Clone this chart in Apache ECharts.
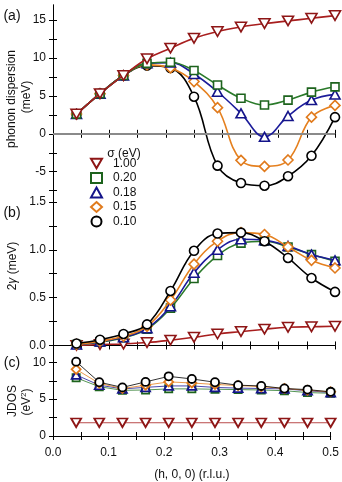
<!DOCTYPE html>
<html>
<head>
<meta charset="utf-8">
<script src="https://cdn.jsdelivr.net/npm/echarts@6/dist/echarts.min.js"></script>
<style>
html,body{margin:0;padding:0;background:#fff;}
#chart{width:342px;height:482px;}
</style>
</head>
<body>
<div id="chart"></div>
<script>
// ---- data ----
const hValues = [0.0417, 0.0833, 0.125, 0.1667, 0.2083, 0.25, 0.2917, 0.3333, 0.375, 0.4167, 0.4583, 0.5];
const sigmaNames = ['1.00', '0.20', '0.18', '0.15', '0.10'];

// (a) phonon dispersion (meV)
const disp100 = [2.6, 5.3, 7.7, 9.9, 11.3, 12.6, 13.5, 14.1, 14.55, 14.9, 15.25, 15.6];
const disp020 = [2.6, 5.3, 7.7, 9.3, 9.45, 8.35, 6.45, 4.7, 3.8, 4.45, 5.5, 6.2];
const disp018 = [2.6, 5.3, 7.7, 9.3, 9.4, 7.9, 5.55, 2.7, -0.4, 2.35, 4.45, 5.2];
const disp015 = [2.6, 5.3, 7.7, 9.1, 8.7, 6.9, 3.45, -3.5, -4.3, -3.45, 2.2, 3.75];
const disp010 = [2.6, 5.3, 7.7, 9.0, 8.7, 4.9, -4.2, -6.5, -6.85, -5.6, -2.9, 2.2];

// (b) 2 gamma (meV)
const gam100 = [0.0, 0.01, 0.015, 0.03, 0.055, 0.085, 0.12, 0.145, 0.17, 0.19, 0.195, 0.2];
const gam020 = [0.01, 0.035, 0.08, 0.17, 0.39, 0.70, 0.94, 1.07, 1.09, 1.03, 0.95, 0.88];
const gam018 = [0.01, 0.04, 0.085, 0.18, 0.41, 0.76, 1.0, 1.11, 1.10, 1.04, 0.95, 0.89];
const gam015 = [0.01, 0.045, 0.095, 0.2, 0.475, 0.85, 1.09, 1.18, 1.16, 1.03, 0.89, 0.81];
const gam010 = [0.02, 0.06, 0.12, 0.22, 0.57, 0.99, 1.17, 1.18, 1.09, 0.915, 0.705, 0.56];

// (c) JDOS (eV^2)
const jdos100 = [1.8, 1.8, 1.8, 1.8, 1.8, 1.8, 1.8, 1.8, 1.8, 1.8, 1.8, 1.8];
const jdos020 = [7.9, 6.7, 6.2, 6.25, 6.4, 6.4, 6.35, 6.3, 6.25, 6.15, 5.9, 5.8];
const jdos018 = [8.3, 6.9, 6.4, 6.6, 6.8, 6.8, 6.6, 6.5, 6.45, 6.4, 6.15, 5.9];
const jdos015 = [9.05, 7.15, 6.45, 6.9, 7.35, 7.2, 7.0, 6.85, 6.7, 6.45, 6.2, 6.0];
const jdos010 = [10.1, 7.3, 6.6, 7.35, 8.1, 7.75, 7.3, 6.9, 6.8, 6.45, 6.3, 6.0];

// tick labels
const xTickLabels = [0, 0.1, 0.2, 0.3, 0.4, 0.5];
const xTicks = [0, 0.05, 0.1, 0.15, 0.2, 0.25, 0.3, 0.35, 0.4, 0.45, 0.5];
const aTickLabels = [-5, 0, 5, 10, 15];
const aTicks = [-7.5, -5, -2.5, 0, 2.5, 5, 7.5, 10, 12.5, 15];
const bTickLabels = [0, 0.5, 1.0, 1.5];
const bTicks = [0, 0.25, 0.5, 0.75, 1.0, 1.25, 1.5];
const cTickLabels = [0, 5, 10];
const cTicks = [0, 2.5, 5, 7.5, 10];

// ---- styles ----
const FONT = 'Liberation Sans';
const downTri = 'path://M0,0L10,0L5,8.66Z';
const styles = {
  '1.00': {border: '#8e1616', line: '#a81e1e', symbol: downTri, size: [11, 9.5]},
  '0.20': {border: '#1d631d', line: '#2a7a2a', symbol: 'rect', size: 8},
  '0.18': {border: '#14148a', line: '#1c1c9a', symbol: 'triangle', size: [10, 9]},
  '0.15': {border: '#e07a1c', line: '#e5801f', symbol: 'diamond', size: [10, 10]},
  '0.10': {border: '#000000', line: '#000000', symbol: 'circle', size: 9}
};
const dispData = {'1.00': disp100, '0.20': disp020, '0.18': disp018, '0.15': disp015, '0.10': disp010};
const gamData = {'1.00': gam100, '0.20': gam020, '0.18': gam018, '0.15': gam015, '0.10': gam010};
const jdosData = {'1.00': jdos100, '0.20': jdos020, '0.18': jdos018, '0.15': jdos015, '0.10': jdos010};

function pairs(arr) { return hValues.map((h, i) => [h, arr[i]]); }

const zA = {'0.10': 1, '0.15': 2, '0.18': 3, '0.20': 4, '1.00': 5};
const zB = {'1.00': 1, '0.20': 2, '0.18': 3, '0.15': 4, '0.10': 5};

const series = [];
function addSeries(dataMap, xi, yi, smooth, lw, zMap, symScale, bw) {
  sigmaNames.forEach(name => {
    const st = styles[name];
    let size = st.size;
    if (Array.isArray(size)) size = size.map(v => v * symScale); else size = size * symScale;
    series.push({
      name: name,
      type: 'line',
      xAxisIndex: xi,
      yAxisIndex: yi,
      data: pairs(dataMap[name]),
      smooth: smooth,
      symbol: st.symbol,
      symbolSize: size,
      showAllSymbol: true,
      z: 2 + zMap[name],
      lineStyle: {color: st.line, width: lw},
      itemStyle: {color: '#ffffff', borderColor: st.border, borderWidth: bw},
      emphasis: {disabled: true},
      animation: false
    });
  });
}
addSeries(dispData, 0, 0, 0.4, 1.6, zA, 1, 1.6);
addSeries(gamData, 2, 2, 0.4, 1.6, zB, 1, 1.6);
addSeries(jdosData, 4, 4, false, 0.8, zB, 0.9, 1.8);

// zero line in (a)
series.push({
  type: 'line', xAxisIndex: 0, yAxisIndex: 0, data: [], silent: true, z: 1,
  markLine: {silent: true, symbol: 'none', animation: false, label: {show: false},
    lineStyle: {color: '#8a8a8a', width: 2, type: 'solid'}, data: [{yAxis: 0}]}
});

const grids = [
  {left: 53, right: 7, top: 5, height: 197},
  {left: 53, right: 7, top: 202, height: 153},
  {left: 53, right: 7, top: 355, height: 84}
];

const axisLineStyle = {show: true, lineStyle: {color: '#000', width: 1}};
function xAx(grid, pos, showLabels) {
  return {
    type: 'value', gridIndex: grid, position: pos, min: 0, max: 0.5,
    axisLine: axisLineStyle,
    axisTick: {show: true, inside: true, length: 4, customValues: xTicks, lineStyle: {color: '#000'}},
    axisLabel: {show: showLabels, customValues: xTickLabels, formatter: v => v.toFixed(1),
      fontFamily: FONT, fontSize: 12, color: '#111', margin: 11},
    splitLine: {show: false},
    name: showLabels ? '(h, 0, 0) (r.l.u.)' : '',
    nameLocation: 'middle', nameGap: 33,
    nameTextStyle: {fontFamily: FONT, fontSize: 12, color: '#111'}
  };
}
function yAx(grid, pos, min, max, ticks, labels, fmt) {
  return {
    type: 'value', gridIndex: grid, position: pos, min: min, max: max,
    axisLine: axisLineStyle,
    axisTick: {show: true, inside: true, length: 4, customValues: ticks, lineStyle: {color: '#000'}},
    axisLabel: {show: pos === 'left', customValues: labels, formatter: fmt,
      fontFamily: FONT, fontSize: 12, color: '#111', margin: 7},
    splitLine: {show: false}
  };
}
const fmtInt = v => String(v);
const fmt1 = v => v.toFixed(1);

const xAxes = [xAx(0, 'bottom', false), xAx(0, 'top', false), xAx(1, 'bottom', false), xAx(1, 'top', false), xAx(2, 'bottom', true), xAx(2, 'top', false)];
const yAxes = [
  yAx(0, 'left', -9, 17, aTicks, aTickLabels, fmtInt), yAx(0, 'right', -9, 17, aTicks, aTickLabels, fmtInt),
  yAx(1, 'left', -0.1, 1.5, bTicks, bTickLabels, fmt1), yAx(1, 'right', -0.1, 1.5, bTicks, bTickLabels, fmt1),
  yAx(2, 'left', 0, 11, cTicks, cTickLabels, fmtInt), yAx(2, 'right', 0, 11, cTicks, cTickLabels, fmtInt)
];

const legendData = sigmaNames.map(name => ({
  name: name,
  icon: styles[name].symbol,
  itemStyle: {color: '#ffffff', borderColor: styles[name].border, borderWidth: 2}
}));

function txt(x, y, text, rot, size) {
  return {
    type: 'text', x: x, y: y, rotation: rot || 0, z: 100,
    style: {text: text, fontFamily: FONT, fontSize: size || 12, fill: '#111', align: 'center', verticalAlign: 'middle'}
  };
}

const option = {
  backgroundColor: '#fff',
  animation: false,
  grid: grids,
  xAxis: xAxes,
  yAxis: yAxes,
  legend: {
    orient: 'vertical', left: 90, top: 157, itemWidth: 11, itemHeight: 10, itemGap: 1.5,
    data: legendData, selectedMode: false, z: 50, padding: 0,
    textStyle: {fontFamily: FONT, fontSize: 12, color: '#111', padding: [0, 0, 0, 6], lineHeight: 13}
  },
  graphic: [
    txt(12, 16, '(a)', 0, 14),
    txt(12, 213, '(b)', 0, 14),
    txt(12, 363, '(c)', 0, 14),
    txt(124, 154, 'σ (eV)', 0, 12),
    txt(12, 99, 'phonon dispersion', Math.PI / 2, 12),
    txt(27, 97, '(meV)', Math.PI / 2, 12),
    {type: 'text', x: 13, y: 266, rotation: Math.PI / 2, z: 100,
      style: {text: '{n|2}{g|γ} {n|(meV)}', align: 'center', verticalAlign: 'middle',
        rich: {n: {fontFamily: FONT, fontSize: 12, fill: '#111'}, g: {fontFamily: FONT, fontSize: 12, fontStyle: 'italic', fill: '#111'}}}},
    txt(13, 401, 'JDOS', Math.PI / 2, 12),
    {type: 'text', x: 27, y: 402, rotation: Math.PI / 2, z: 100,
      style: {text: '{n|(eV}{s|2}{n|)}', align: 'center', verticalAlign: 'middle',
        rich: {n: {fontFamily: FONT, fontSize: 12, fill: '#111'}, s: {fontFamily: FONT, fontSize: 8, fill: '#111', verticalAlign: 'top', padding: [0, 0, 6, 0]}}}}
  ],
  series: series
};

const chart = echarts.init(document.getElementById('chart'), null, {renderer: 'canvas'});
chart.setOption(option);
</script>
</body>
</html>
